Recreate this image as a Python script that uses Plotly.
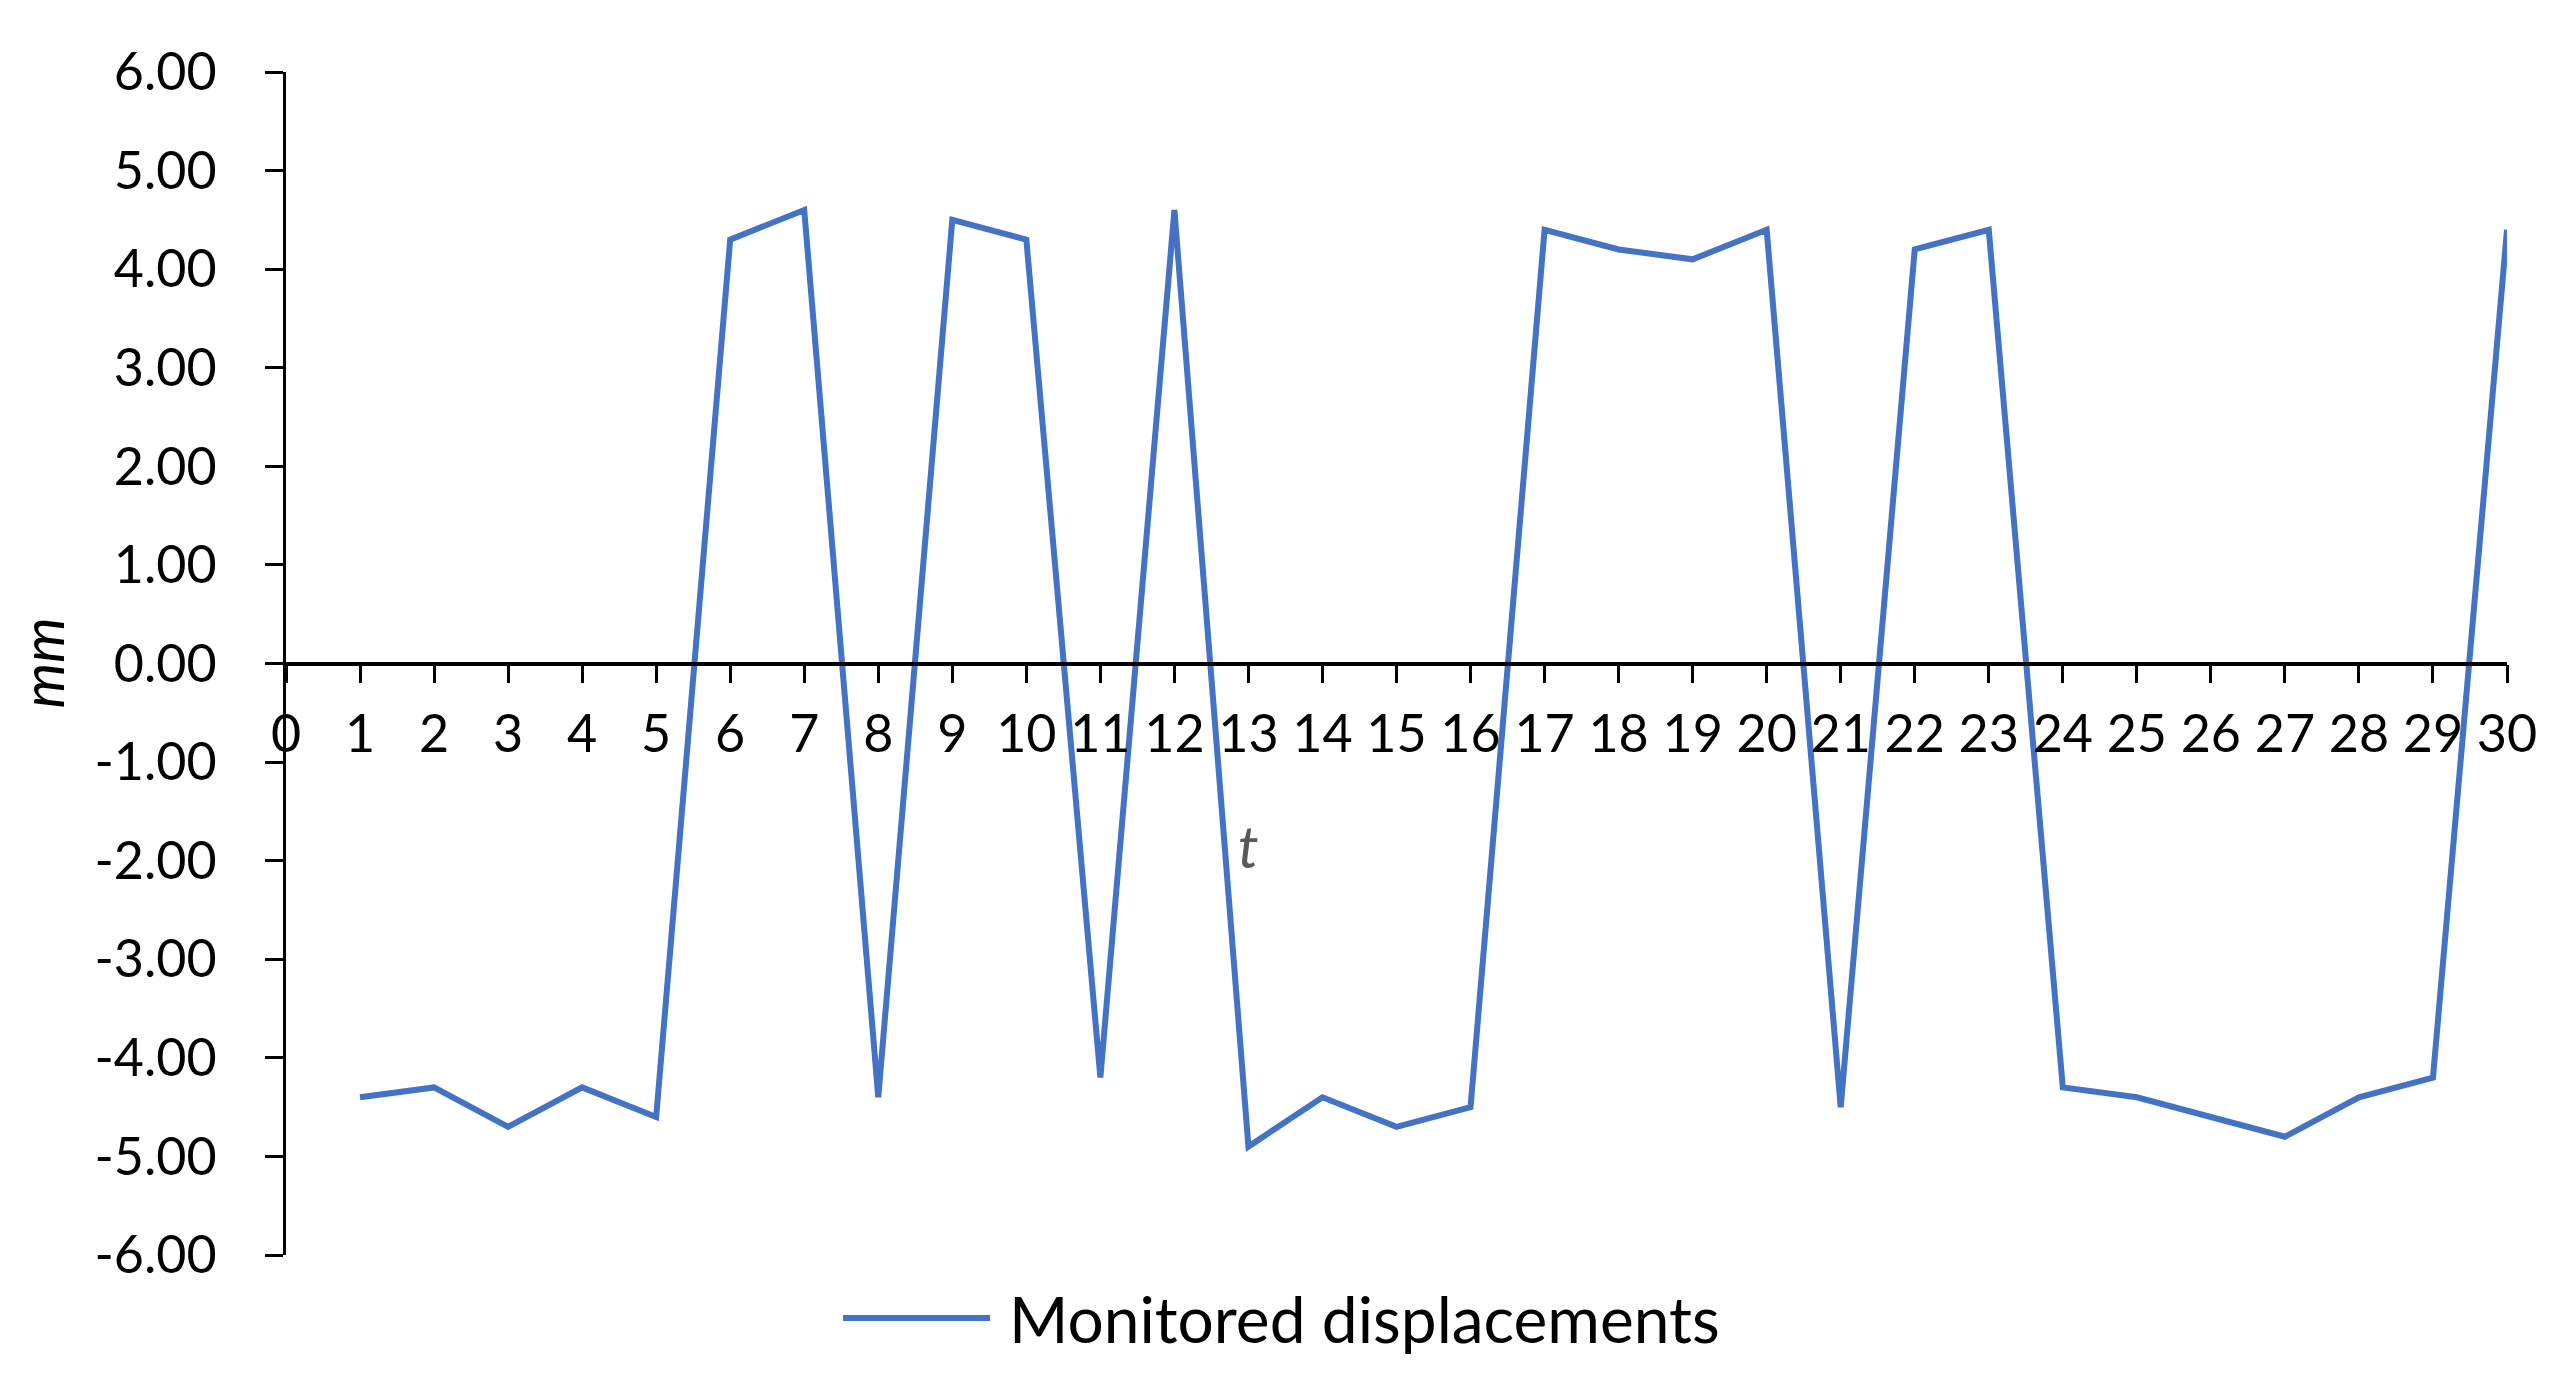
import plotly.graph_objects as go

# monitored displacement per time step (mm)
t_steps = list(range(1, 31))
displacements = [
    -4.4, -4.3, -4.7, -4.3, -4.6, 4.3, 4.6, -4.4, 4.5, 4.3,
    -4.2, 4.6, -4.9, -4.4, -4.7, -4.5, 4.4, 4.2, 4.1, 4.4,
    -4.5, 4.2, 4.4, -4.3, -4.4, -4.6, -4.8, -4.4, -4.2, 4.4,
]

x_ticks = list(range(0, 31))
y_ticks = [-6, -5, -4, -3, -2, -1, 0, 1, 2, 3, 4, 5, 6]
y_tick_labels = [f"{v:.2f}" for v in y_ticks]

series_name = "Monitored displacements"
line_color = "#4472C4"
font_family = "Lato, 'Noto Sans', sans-serif"

fig = go.Figure()

fig.add_trace(go.Scatter(
    x=t_steps,
    y=displacements,
    mode="lines",
    name=series_name,
    line=dict(color=line_color, width=6),
    showlegend=False,
))

fig.update_xaxes(
    range=[0, 30],
    anchor="free",
    position=0.5,
    tickvals=x_ticks,
    ticktext=[str(v) for v in x_ticks],
    showline=True,
    linecolor="black",
    linewidth=3.5,
    ticks="outside",
    ticklen=18,
    tickwidth=2.5,
    tickcolor="black",
    ticklabelstandoff=6,
    showgrid=False,
    zeroline=False,
    tickfont=dict(family=font_family, size=52, color="black"),
)

fig.update_yaxes(
    range=[-6, 6],
    tickvals=y_ticks,
    ticktext=y_tick_labels,
    showline=True,
    linecolor="black",
    linewidth=3,
    ticks="outside",
    ticklen=18,
    tickwidth=2.5,
    tickcolor="black",
    ticklabelstandoff=38,
    showgrid=False,
    zeroline=False,
    tickfont=dict(family=font_family, size=52, color="black"),
)

# axis titles
fig.add_annotation(
    text="<i>mm</i>", xref="paper", yref="paper", x=-0.1103, y=0.5,
    textangle=-90, showarrow=False, xanchor="center", yanchor="middle",
    font=dict(family=font_family, size=58, color="black"),
)
fig.add_annotation(
    text="<i>t</i>", xref="x", yref="y", x=13, y=-1.85,
    showarrow=False, xanchor="center", yanchor="middle",
    font=dict(family=font_family, size=58, color="#595959"),
)

# legend drawn below the plot, centred on the page
fig.add_shape(
    type="line", xref="paper", yref="paper",
    x0=0.2508, x1=0.3170, y0=-0.0533, y1=-0.0533,
    line=dict(color=line_color, width=6),
)
fig.add_annotation(
    text=series_name, xref="paper", yref="paper", x=0.3246, y=-0.0533,
    showarrow=False, xanchor="left", yanchor="middle",
    font=dict(family=font_family, size=64, color="black"),
)

fig.update_layout(
    width=2558,
    height=1389,
    margin=dict(l=278, r=59, t=64, b=142),
    plot_bgcolor="white",
    paper_bgcolor="white",
    showlegend=False,
)

fig.write_html("out.html")
